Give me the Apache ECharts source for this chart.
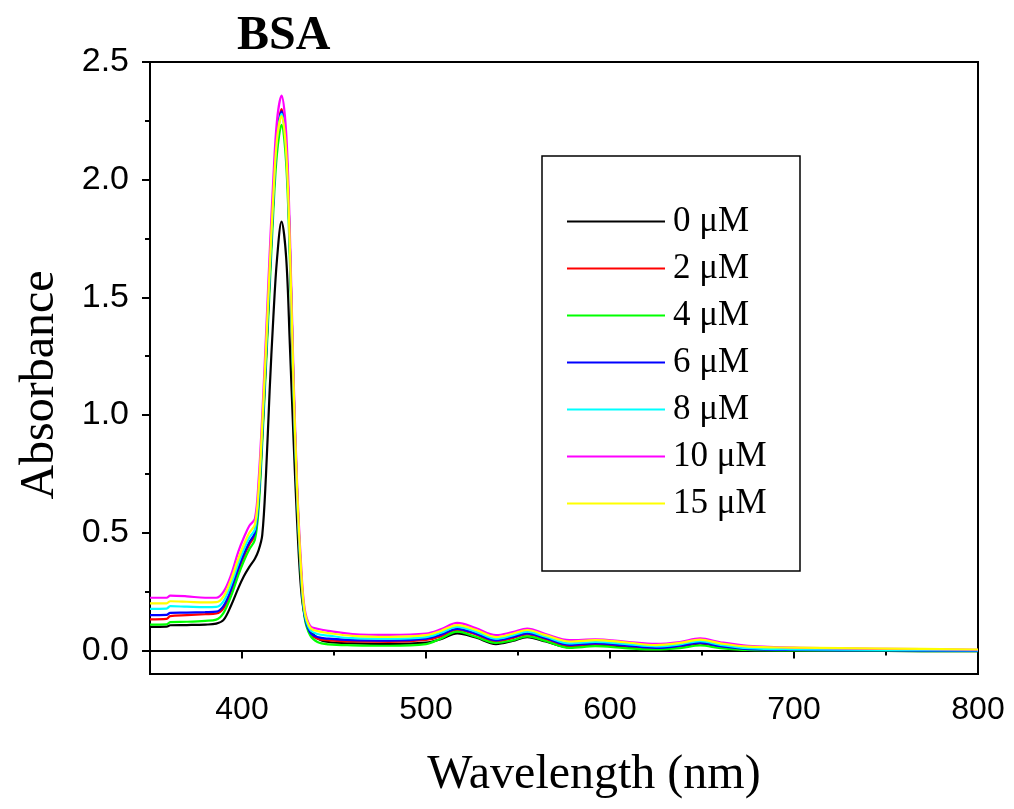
<!DOCTYPE html>
<html><head><meta charset="utf-8">
<script src="https://cdn.jsdelivr.net/npm/echarts@6/dist/echarts.min.js"></script>
<style>html,body{margin:0;padding:0;background:#fff}#c{width:1014px;height:809px}</style>
</head><body><div id="c"></div>
<script>
const wavelength = [350, 359, 361, 370, 380, 386, 390, 394, 398, 401, 404, 407, 409, 411, 413, 415, 417, 419, 421.5, 424, 426, 428, 430, 432, 434, 437, 441, 447, 460, 480, 500, 508, 517, 527, 538, 547, 555, 565, 578, 592, 608, 625, 638, 649, 660, 675, 700, 750, 800];

const seriesNames = ['0 μM', '2 μM', '4 μM', '6 μM', '8 μM', '10 μM', '15 μM'];
const seriesColors = ['#000000', '#ff0000', '#00ff00', '#0000ff', '#00ffff', '#ff00ff', '#ffff00'];

const abs0uM = [.100, .101, .107, .108, .110, .114,
  .130, .190, .265, .315, .355, .390, .425, .490, .740, 1.10, 1.41, 1.66,
  1.822,
  1.67, 1.30, 0.90, 0.54, 0.27, 0.15, 0.090, 0.052, 0.036,
  .030, .027, .033, .048, .073, .055, .027, .040, .057, .038, .014, .025, .016, .008, .015, .030, .015, .003, .000, -.002, -.003];

const abs2uM = [.132, .134, .146, .150, .154, .157,
  .180, .250, .340, .400, .450, .490, .630, .910, 1.23, 1.58, 1.92, 2.18,
  2.300,
  2.14, 1.72, 1.12, 0.66, 0.34, 0.15, 0.072, 0.050, 0.043,
  .038, .036, .045, .060, .087, .068, .038, .052, .068, .048, .020, .028, .020, .010, .018, .032, .018, .006, .002, .000, -.002];

const abs4uM = [.110, .111, .120, .122, .126, .131,
  .160, .230, .320, .380, .430, .470, .600, .880, 1.20, 1.53, 1.86, 2.11,
  2.233,
  2.07, 1.66, 1.09, 0.64, 0.32, 0.14, 0.065, 0.036, 0.026,
  .022, .020, .027, .050, .080, .058, .032, .043, .060, .040, .011, .018, .010, .004, .010, .021, .010, .002, .000, -.002, -.003];

const abs6uM = [.150, .151, .160, .161, .163, .165,
  .190, .260, .350, .410, .460, .500, .640, .920, 1.24, 1.58, 1.91, 2.17,
  2.290,
  2.13, 1.72, 1.12, 0.66, 0.34, 0.15, 0.077, 0.057, 0.050,
  .044, .042, .050, .067, .092, .072, .043, .057, .073, .052, .024, .030, .022, .011, .020, .033, .018, .006, .002, .000, -.002];

const abs8uM = [.177, .178, .188, .186, .184, .185,
  .210, .280, .370, .430, .480, .515, .660, .940, 1.26, 1.60, 1.92, 2.17,
  2.280,
  2.13, 1.72, 1.13, 0.67, 0.35, 0.16, 0.088, 0.070, 0.063,
  .052, .050, .057, .075, .100, .080, .050, .064, .080, .058, .030, .036, .028, .017, .026, .040, .024, .010, .005, .002, .000];

const abs10uM = [.224, .224, .233, .230, .224, .224,
  .250, .320, .420, .480, .530, .560, .720, 1.00, 1.33, 1.68, 2.00, 2.25,
  2.357,
  2.20, 1.78, 1.17, 0.70, 0.38, 0.18, 0.105, 0.092, 0.083,
  .070, .066, .072, .090, .117, .095, .065, .078, .093, .070, .044, .047, .038, .028, .036, .051, .035, .020, .012, .007, .003];

const abs15uM = [.200, .200, .209, .207, .204, .205,
  .230, .300, .390, .450, .500, .535, .680, .960, 1.28, 1.62, 1.93, 2.17,
  2.270,
  2.12, 1.72, 1.14, 0.68, 0.36, 0.17, 0.097, 0.082, 0.074,
  .062, .058, .065, .083, .108, .088, .057, .071, .087, .065, .038, .044, .035, .023, .032, .046, .030, .016, .012, .008, .004];

const xMajorTicks = [400, 500, 600, 700, 800];
const xMinorTicks = [350, 450, 550, 650, 750];
const yMajorTicks = [0, 0.5, 1.0, 1.5, 2.0, 2.5];
const yMinorTicks = [0.25, 0.75, 1.25, 1.75, 2.25];

const allAbs = [abs0uM, abs2uM, abs4uM, abs6uM, abs8uM, abs10uM, abs15uM];

const chart = echarts.init(document.getElementById('c'), null, {renderer: 'canvas'});

const serif = 'Liberation Serif';
const sans = 'Liberation Sans';

const option = {
  animation: false,
  backgroundColor: '#ffffff',
  title: {
    text: 'BSA', left: 232, top: 8,
    textStyle: {fontFamily: serif, fontWeight: 'bold', fontSize: 48, color: '#000'}
  },
  grid: {left: 150, right: 36, top: 62, bottom: 135, show: true, borderColor: '#000', borderWidth: 2, backgroundColor: 'transparent'},
  legend: {
    orient: 'vertical', left: 567, top: 204, padding: 0,
    icon: 'rect', itemWidth: 98, itemHeight: 2, itemGap: 12,
    data: seriesNames,
    textStyle: {fontFamily: serif, fontSize: 35, color: '#000', lineHeight: 35, padding: [0, 0, 0, 3]}
  },
  xAxis: [{
    type: 'value', min: 350, max: 800, position: 'bottom',
    axisLine: {show: true, lineStyle: {color: '#000', width: 2}},
    axisTick: {show: true, customValues: xMajorTicks, length: 8, inside: false, lineStyle: {color: '#000', width: 2}},
    axisLabel: {customValues: xMajorTicks, fontFamily: sans, fontSize: 32, color: '#000', margin: 20},
    splitLine: {show: false}
  }, {
    type: 'value', min: 350, max: 800, position: 'bottom',
    axisLine: {show: false},
    axisTick: {show: true, customValues: xMinorTicks, length: 5, inside: false, lineStyle: {color: '#000', width: 2}},
    axisLabel: {show: false},
    splitLine: {show: false}
  }],
  yAxis: [{
    type: 'value', min: -0.1, max: 2.5, position: 'left',
    axisLine: {show: true, lineStyle: {color: '#000', width: 2}},
    axisTick: {show: true, customValues: yMajorTicks, length: 8, inside: false, lineStyle: {color: '#000', width: 2}},
    axisLabel: {customValues: yMajorTicks, fontFamily: sans, fontSize: 34, color: '#000', margin: 21,
      formatter: v => Number(v).toFixed(1)},
    splitLine: {show: false}
  }, {
    type: 'value', min: -0.1, max: 2.5, position: 'left',
    axisLine: {show: false},
    axisTick: {show: true, customValues: yMinorTicks, length: 5, inside: false, lineStyle: {color: '#000', width: 2}},
    axisLabel: {show: false},
    splitLine: {show: false}
  }],
  graphic: [
    {type: 'rect', shape: {x: 542, y: 156, width: 258, height: 415}, style: {fill: 'none', stroke: '#000', lineWidth: 1.5}, z: 10},
    {type: 'text', x: 40, y: 385, rotation: Math.PI / 2,
      style: {text: 'Absorbance', font: '48px "Liberation Serif"', fill: '#000', textAlign: 'center', textVerticalAlign: 'middle'}},
    {type: 'text', x: 594, y: 775,
      style: {text: 'Wavelength (nm)', font: '48px "Liberation Serif"', fill: '#000', textAlign: 'center', textVerticalAlign: 'middle'}}
  ],
  series: allAbs.map((arr, i) => ({
    name: seriesNames[i],
    type: 'line',
    xAxisIndex: 0, yAxisIndex: 0,
    showSymbol: false, symbol: 'none',
    smooth: 0.35,
    color: seriesColors[i],
    lineStyle: {color: seriesColors[i], width: 2.2},
    data: wavelength.map((w, j) => [w, arr[j]])
  }))
};
chart.setOption(option);
</script>
</body></html>
